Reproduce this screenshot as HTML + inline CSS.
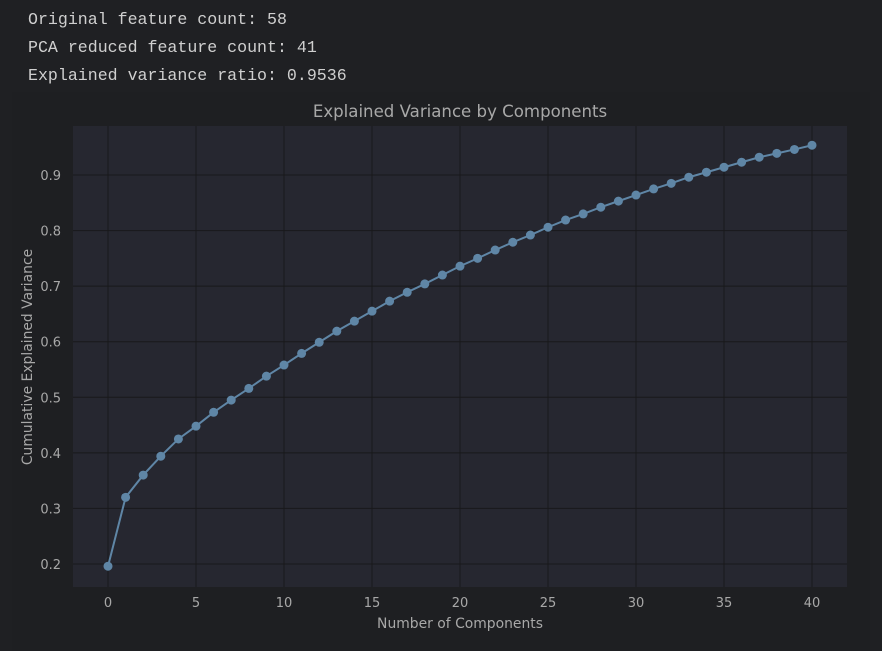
<!DOCTYPE html>
<html><head><meta charset="utf-8"><style>
html,body{margin:0;padding:0;background:#1f2023;width:882px;height:651px;overflow:hidden}
.txt{position:absolute;left:28px;font-family:"Liberation Mono","DejaVu Sans Mono",monospace;font-size:16.6px;color:#cfcfcf;white-space:pre}
svg{position:absolute;left:0;top:0}
text{font-family:"DejaVu Sans","Liberation Sans",sans-serif;fill:#a8a8a8}
</style></head><body>
<div class="txt" style="top:10px">Original feature count: 58</div>
<div class="txt" style="top:38px">PCA reduced feature count: 41</div>
<div class="txt" style="top:66px">Explained variance ratio: 0.9536</div>
<svg width="882" height="651" id="chart">
<rect x="12" y="92" width="858" height="559" fill="#1e1f22"/>
<rect x="73" y="126" width="774" height="461" fill="#262730"/>
<g id="grid"></g><g id="ticks"></g><g id="series"></g>
<text x="460" y="117" text-anchor="middle" font-size="16.6">Explained Variance by Components</text>
<text x="460" y="628" text-anchor="middle" font-size="13.9">Number of Components</text>
<text x="32" y="357" text-anchor="middle" font-size="13.9" transform="rotate(-90 32 357)">Cumulative Explained Variance</text>
</svg>
<script>
const components=[0,1,2,3,4,5,6,7,8,9,10,11,12,13,14,15,16,17,18,19,20,21,22,23,24,25,26,27,28,29,30,31,32,33,34,35,36,37,38,39,40];
const cumVariance=[0.196,0.320,0.360,0.394,0.425,0.448,0.473,0.495,0.516,0.538,0.558,0.579,0.599,0.619,0.637,0.655,0.673,0.689,0.704,0.720,0.736,0.750,0.765,0.779,0.792,0.806,0.819,0.830,0.842,0.853,0.864,0.875,0.885,0.896,0.905,0.914,0.923,0.932,0.939,0.946,0.9536];
const xTicks=[0,5,10,15,20,25,30,35,40];
const yTicks=[0.2,0.3,0.4,0.5,0.6,0.7,0.8,0.9];
const NS='http://www.w3.org/2000/svg';
function xs(v){return 108+v*17.6;}
function ys(v){return 564-(v-0.2)*555.7;}
function mk(tag,attrs,parent){const e=document.createElementNS(NS,tag);for(const k in attrs)e.setAttribute(k,attrs[k]);document.getElementById(parent).appendChild(e);return e;}
xTicks.forEach(t=>{
 const g=mk('line',{x1:xs(t),x2:xs(t),y1:126,y2:587,stroke:'#18191b','stroke-width':1},'grid');
 
 
 const l=mk('text',{x:xs(t),y:607,'text-anchor':'middle','font-size':13},'ticks');
 l.textContent=t;
 
 
});
yTicks.forEach(t=>{
 const g=mk('line',{x1:73,x2:847,y1:ys(t),y2:ys(t),stroke:'#18191b','stroke-width':1},'grid');
 
 
 const l=mk('text',{x:61,y:ys(t)+5,'text-anchor':'end','font-size':13},'ticks');
 l.textContent=t.toFixed(1);
 
 
});
const pts=components.map((c,i)=>xs(c)+','+ys(cumVariance[i])).join(' ');
const line=mk('polyline',{points:pts,fill:'none',stroke:'#5f86a6','stroke-width':2},'series');


components.forEach((c,i)=>{
 const p=mk('circle',{cx:xs(c),cy:ys(cumVariance[i]),r:4.5,fill:'#5f86a6'},'series');
 
 
});
</script>
</body></html>
